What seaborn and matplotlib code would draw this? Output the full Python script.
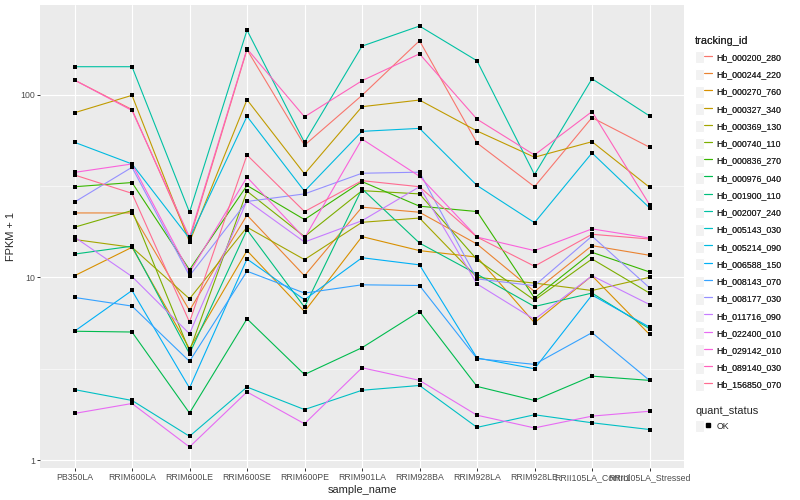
import numpy as np
import pandas as pd
import matplotlib
matplotlib.use('Agg')
import matplotlib.pyplot as plt
import seaborn as sns
from matplotlib.lines import Line2D
from matplotlib.patches import Patch
from matplotlib.legend_handler import HandlerTuple
from matplotlib.ticker import FixedLocator, NullFormatter

# samples on the x axis
samples = ['PB350LA', 'RRIM600LA', 'RRIM600LE', 'RRIM600SE', 'RRIM600PE', 'RRIM901LA',
           'RRIM928BA', 'RRIM928LA', 'RRIM928LE', 'RRII105LA_Control', 'RRII105LA_Stressed']

tracking_ids = ['Hb_000200_280', 'Hb_000244_220', 'Hb_000270_760', 'Hb_000327_340', 'Hb_000369_130',
                'Hb_000740_110', 'Hb_000836_270', 'Hb_000976_040', 'Hb_001900_110', 'Hb_002007_240',
                'Hb_005143_030', 'Hb_005214_090', 'Hb_006588_150', 'Hb_008143_070', 'Hb_008177_030',
                'Hb_011716_090', 'Hb_022400_010', 'Hb_029142_010', 'Hb_089140_030', 'Hb_156850_070']

# FPKM + 1
hb_000200_280 = [120, 82.8, 16.1, 176, 52.8, 99, 197, 54.3, 31.3, 74.8, 51.5]
hb_000244_220 = [22.5, 22.5, 6.59, 21.9, 10.2, 24.2, 22.7, 15.2, 8.36, 14.9, 13.2]
hb_000270_760 = [10.2, 14.6, 4.07, 14.0, 6.5, 16.7, 14.0, 12.9, 5.64, 10.2, 4.87]
hb_000327_340 = [79.5, 99, 15.6, 93.7, 36.8, 85.8, 93.3, 63.2, 45.4, 55.2, 31.1]
hb_000369_130 = [16.1, 14.6, 7.63, 18.8, 12.5, 20.0, 21.1, 10.0, 9.3, 8.47, 10.0]
hb_000740_110 = [18.8, 23.2, 3.95, 29.6, 16.7, 29.8, 28.6, 12.5, 7.5, 12.6, 8.2]
hb_000836_270 = [31.3, 33.0, 11.0, 31.8, 20.7, 33.4, 24.5, 22.9, 7.7, 13.7, 10.7]
hb_000976_040 = [5.07, 5.02, 1.81, 5.93, 2.94, 4.12, 6.5, 2.53, 2.12, 2.88, 2.73]
hb_001900_110 = [13.4, 14.8, 3.82, 18.2, 6.87, 30.5, 15.4, 10.4, 6.92, 8.2, 5.23]
hb_002007_240 = [142, 142, 22.7, 225, 54.7, 184, 237, 153, 36.5, 122, 76.4]
hb_005143_030 = [2.43, 2.12, 1.35, 2.51, 1.89, 2.41, 2.56, 1.51, 1.77, 1.6, 1.47]
hb_005214_090 = [54.8, 41.7, 16.3, 76, 29.6, 62.9, 65.3, 31.8, 19.9, 47.9, 24.0]
hb_006588_150 = [5.07, 8.47, 2.48, 12.6, 7.54, 12.8, 11.7, 3.62, 3.16, 8.0, 5.34]
hb_008143_070 = [7.76, 6.96, 3.47, 10.8, 8.2, 9.1, 9.02, 3.59, 3.34, 4.98, 2.73]
hb_008177_030 = [25.8, 40.0, 10.2, 26.0, 28.6, 37.1, 37.6, 9.8, 9.0, 16.8, 8.77]
hb_011716_090 = [16.6, 10.1, 4.91, 26.3, 15.6, 20.4, 31.3, 9.2, 5.88, 10.2, 7.1]
hb_022400_010 = [1.80, 2.04, 1.18, 2.36, 1.58, 3.2, 2.73, 1.76, 1.5, 1.74, 1.85]
hb_029142_010 = [37.5, 41.7, 10.6, 35.3, 16.4, 57.1, 35.7, 16.6, 14.0, 18.4, 16.4]
hb_089140_030 = [120, 81.8, 16.6, 178, 75.5, 119, 167, 73.3, 46.7, 80.7, 25.0]
hb_156850_070 = [36.3, 28.8, 5.69, 46.7, 22.9, 33.8, 31.3, 16.6, 11.5, 17.2, 16.2]

series = [hb_000200_280, hb_000244_220, hb_000270_760, hb_000327_340, hb_000369_130,
          hb_000740_110, hb_000836_270, hb_000976_040, hb_001900_110, hb_002007_240,
          hb_005143_030, hb_005214_090, hb_006588_150, hb_008143_070, hb_008177_030,
          hb_011716_090, hb_022400_010, hb_029142_010, hb_089140_030, hb_156850_070]

# ggplot default hue palette for 20 levels
gg_colors = ['#F8766D', '#EA8331', '#D89000', '#C09B00', '#A3A500', '#7CAE00', '#39B600',
             '#00BB4E', '#00BF7D', '#00C1A3', '#00BFC4', '#00BAE0', '#00B0F6', '#35A2FF',
             '#9590FF', '#C77CFF', '#E76BF3', '#FA62DB', '#FF62BC', '#FF6C91']

rows = []
for tid, vals in zip(tracking_ids, series):
    for i, v in enumerate(vals):
        rows.append({'tracking_id': tid, 'pos': i, 'sample_name': samples[i], 'fpkm': v})
df = pd.DataFrame(rows)

sns.set_theme(style='darkgrid', rc={'axes.facecolor': '#EBEBEB', 'grid.color': 'white'})
plt.rcParams['font.family'] = ['Liberation Sans', 'DejaVu Sans']

fig = plt.figure(figsize=(8, 5), dpi=100)
fig.patch.set_facecolor('white')
ax = fig.add_axes([40 / 800, 1 - 468 / 500, (684 - 40) / 800, (468 - 5) / 500])

sns.lineplot(data=df, x='pos', y='fpkm', hue='tracking_id', hue_order=tracking_ids,
             palette=gg_colors, sort=False, estimator=None, linewidth=0.8, legend=False, ax=ax)
sns.scatterplot(data=df, x='pos', y='fpkm', color='black', marker='s', s=6, linewidth=0,
                legend=False, ax=ax, zorder=5)

ax.set_yscale('log')
lo, hi = np.log10(df['fpkm'].min()), np.log10(df['fpkm'].max())
pad = 0.05 * (hi - lo)
ax.set_ylim(10 ** (lo - pad), 10 ** (hi + pad))
ax.set_xlim(-0.6, len(samples) - 0.4)

ax.set_xticks(range(len(samples)))
ax.set_xticklabels(samples)
ax.yaxis.set_major_locator(FixedLocator([1, 10, 100]))
ax.set_yticklabels(['1', '10', '100'])
ax.yaxis.set_minor_locator(FixedLocator([10 ** 0.5, 10 ** 1.5]))
ax.yaxis.set_minor_formatter(NullFormatter())

ax.grid(True, which='major', color='white', linewidth=0.8)
ax.grid(True, which='minor', axis='y', color='white', linewidth=0.4)
ax.tick_params(axis='both', which='major', length=2, width=0.7, color='#333333',
               labelsize=6.3, labelcolor='#4D4D4D', pad=1.6, bottom=True, left=True)
ax.tick_params(which='minor', length=0)
for s in ax.spines.values():
    s.set_visible(False)

ax.set_xlabel('sample_name', fontsize=7.9, labelpad=2)
ax.set_ylabel('FPKM + 1', fontsize=7.9, labelpad=3)

# legends like ggplot's
key_bg = dict(facecolor='#F2F2F2', edgecolor='white', linewidth=0.8)
handles = [(Patch(**key_bg), Line2D([], [], color=c, linewidth=0.8)) for c in gg_colors]
leg1 = fig.legend(handles, tracking_ids, loc='upper left', bbox_to_anchor=(0.869, 0.928),
                  frameon=False, fontsize=6.3, title='tracking_id', title_fontsize=7.9,
                  handlelength=1.95, handleheight=1.7, labelspacing=0.62, handletextpad=0.5,
                  borderpad=0, borderaxespad=0, alignment='left',
                  handler_map={tuple: HandlerTuple(ndivide=None)})
fig.add_artist(leg1)
ok_handle = [(Patch(**key_bg), Line2D([], [], color='black', marker='s', markersize=2.4, linestyle='none'))]
fig.legend(ok_handle, ['OK'], loc='upper left', bbox_to_anchor=(0.869, 0.188),
           frameon=False, fontsize=6.3, title='quant_status', title_fontsize=7.9,
           handlelength=1.95, handleheight=1.7, handletextpad=0.5,
           borderpad=0, borderaxespad=0, alignment='left',
           handler_map={tuple: HandlerTuple(ndivide=None)})

fig.savefig('out.png', dpi=100)
